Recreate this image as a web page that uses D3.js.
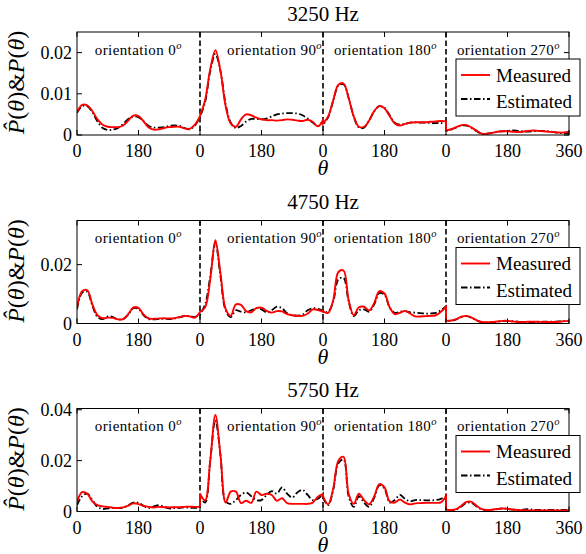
<!DOCTYPE html>
<html><head><meta charset="utf-8">
<script src="https://cdn.jsdelivr.net/npm/d3@7"></script>
<style>body{margin:0;background:#fff}svg{display:block}</style>
</head><body><svg id="c" width="586" height="554"></svg>
<script>
// ---------- data (values in units of 1e-3) ----------
const frequencies = ["3250 Hz", "4750 Hz", "5750 Hz"];
const orientations = ["0", "90", "180", "270"];
const orientationLabelTheta = [52, 439, 752, 1112];
const thetaLocal = [0,15,30,45,60,75,90,105,120,135,150,165,180,195,210,225,240,255,270,285,300,315,330,345,360];
const xTickValues = [0,180,360,540,720,900,1080,1260,1440];
const xTickLabels = ["0","180","0","180","0","180","0","180","360"];
const yMaxes = [25, 35, 40.5];
const yTickValues = [[0,10,20],[0,20],[0,20,40]];
const yTickLabels = [["0","0.01","0.02"],["0","0.02"],["0","0.02","0.04"]];

const measured3250 = [
  [5.6,7.3,7.2,5.8,3.8,2.5,2.0,1.9,1.9,2.3,3.5,4.7,4.6,3.3,1.8,1.3,1.4,1.7,1.9,2.0,2.0,1.6,1.5,2.5,4.6],
  [4.7,8.5,16.0,20.6,15.5,7.0,2.8,2.0,3.8,5.0,4.8,4.2,3.8,3.6,3.6,3.5,3.6,3.8,3.7,3.5,3.4,3.7,3.2,2.1,3.6],
  [2.8,4.5,8.5,12.2,12.5,9.0,4.5,2.0,2.0,3.5,5.8,7.0,6.5,4.6,2.8,2.3,2.7,3.0,3.1,3.1,3.1,3.2,3.3,3.4,3.3],
  [1.1,1.4,1.9,2.4,2.4,1.8,1.0,0.3,0.3,0.5,0.8,0.9,0.9,0.8,0.7,0.8,1.0,1.1,1.0,0.9,0.8,0.7,0.6,0.6,0.8]
];
const estimated3250 = [
  [5.4,7.0,7.0,5.5,3.3,1.7,1.2,1.3,1.7,2.7,3.9,4.5,4.3,3.3,2.2,1.8,1.8,1.9,2.2,2.3,2.2,1.7,1.4,2.3,4.4],
  [4.4,8.0,15.5,19.7,15.5,7.5,3.0,1.7,2.2,3.3,3.9,3.9,3.8,4.0,4.5,5.0,5.2,5.3,5.3,5.2,4.8,4.0,3.0,2.2,3.4],
  [2.5,4.3,8.3,12.0,12.3,9.0,4.5,1.8,1.8,3.5,5.8,7.0,6.6,4.8,3.0,2.5,2.7,3.0,3.1,3.0,3.0,2.9,2.9,2.9,2.8],
  [1.0,1.3,1.8,2.3,2.3,1.7,0.9,0.3,0.3,0.5,0.8,0.9,1.0,1.1,1.0,0.9,0.8,0.9,1.0,1.0,0.9,0.7,0.5,0.4,0.4]
];
const measured4750 = [
  [5.2,11.0,11.3,6.5,2.8,1.8,2.0,1.9,1.4,1.5,3.2,5.5,5.3,3.0,1.7,1.6,1.7,1.8,1.7,1.8,2.2,2.6,2.4,2.0,3.9],
  [3.9,5.5,15.0,28.3,17.0,5.0,2.6,6.5,6.3,4.2,3.8,5.2,5.4,4.3,3.7,4.2,4.1,3.2,2.8,2.6,2.6,3.3,4.8,4.6,4.0],
  [4.1,3.6,8.0,17.5,18.0,8.0,2.8,5.5,5.7,4.4,7.0,11.0,10.2,5.5,3.2,3.6,4.3,3.4,2.4,2.4,2.5,2.6,2.8,4.0,5.6],
  [0.9,1.0,1.5,2.3,2.6,2.0,1.1,0.5,0.4,0.5,0.7,0.9,0.9,0.7,0.5,0.5,0.6,0.6,0.6,0.5,0.5,0.5,0.6,0.8,0.9]
];
const estimated4750 = [
  [4.8,10.5,10.8,6.0,2.2,1.5,2.4,2.2,1.4,1.5,3.0,5.2,5.0,2.8,1.5,1.4,1.5,1.6,1.5,1.7,2.1,2.5,2.5,2.2,3.0],
  [3.0,6.5,16.0,27.5,16.0,4.5,2.2,4.5,4.0,3.8,4.5,5.2,4.8,3.8,4.5,5.7,5.2,3.5,2.8,2.7,3.0,4.5,5.2,5.0,4.2],
  [4.0,4.0,7.5,15.0,15.5,7.5,2.5,4.5,4.8,4.0,6.5,10.3,9.8,5.5,3.6,4.0,4.2,3.8,3.7,3.5,3.4,3.4,3.6,4.5,5.8],
  [0.8,0.9,1.4,2.2,2.5,1.9,1.0,0.4,0.3,0.4,0.6,0.8,0.9,0.8,0.6,0.4,0.3,0.4,0.5,0.6,0.6,0.6,0.7,0.8,0.9]
];
const measured5750 = [
  [3.8,7.6,7.0,4.0,2.5,2.0,1.8,1.5,1.4,1.6,2.3,3.2,2.9,2.2,1.8,1.6,1.8,1.7,1.6,1.7,1.7,1.8,1.9,1.8,1.9],
  [7.0,4.4,20.0,38.0,22.0,3.5,7.8,7.8,3.3,4.2,3.4,7.8,6.5,7.0,6.5,4.2,5.2,3.3,3.0,3.0,3.0,3.0,3.5,5.8,6.8],
  [6.0,2.8,9.0,20.0,21.5,7.0,3.0,7.0,4.5,2.8,6.0,10.8,9.5,4.0,3.5,4.7,3.5,2.8,3.2,3.3,3.4,3.4,3.4,3.6,6.0],
  [0.8,0.6,0.9,2.3,3.8,3.8,2.2,0.9,0.6,0.7,1.0,1.2,1.1,0.8,0.6,0.5,0.4,0.4,0.4,0.4,0.4,0.4,0.4,0.4,0.5]
];
const estimated5750 = [
  [2.5,6.0,7.0,4.5,1.8,1.0,1.2,1.4,1.3,1.5,2.5,3.5,3.4,2.2,1.4,2.0,2.5,1.8,1.2,1.3,1.4,1.6,1.5,1.4,1.6],
  [6.0,3.5,20.0,36.0,22.0,4.0,3.0,4.5,6.5,7.5,6.0,4.5,4.5,6.5,8.0,7.0,9.5,7.0,5.5,7.5,8.5,6.5,4.5,5.0,7.0],
  [5.5,2.5,8.5,19.0,20.5,6.0,1.8,6.0,3.5,1.8,5.5,10.3,9.0,3.5,4.5,6.5,5.0,4.0,4.5,4.5,4.4,4.4,4.5,5.0,6.0],
  [0.6,0.5,0.8,2.0,3.4,3.4,2.0,0.8,0.6,0.7,1.0,1.2,1.0,0.7,0.6,0.7,0.9,0.7,0.6,0.6,0.6,0.6,0.6,0.6,0.6]
];
const measuredAll = [measured3250, measured4750, measured5750];
const estimatedAll = [estimated3250, estimated4750, estimated5750];
const legendLabels = ["Measured", "Estimated"];

// ---------- layout ----------
const FONT = "'Liberation Serif','Times New Roman',serif";
const L = 77, R = 569, H = 103;
const tops = [32, 220.5, 408.5];
const svg = d3.select("#c").style("font-family", FONT);
const x = d3.scaleLinear().domain([0, 1440]).range([L, R]);

frequencies.forEach((freq, p) => {
  const top = tops[p], bot = top + H;
  const y = d3.scaleLinear().domain([0, yMaxes[p]]).range([bot, top]);
  const g = svg.append("g");
  const clipId = "clip" + p;
  svg.append("clipPath").attr("id", clipId).append("rect")
    .attr("x", L).attr("y", top).attr("width", R - L).attr("height", H);

  // title
  g.append("text").attr("x", (L + R) / 2).attr("y", top - 11.5)
    .attr("text-anchor", "middle").attr("font-size", 21).text(freq);

  // separators
  [360, 720, 1080].forEach(t => {
    g.append("line").attr("x1", x(t)).attr("x2", x(t)).attr("y1", top).attr("y2", bot)
      .attr("stroke", "#000").attr("stroke-width", 1.6).attr("stroke-dasharray", "5.5,3");
  });

  // curves
  const line = d3.line().x(d => x(d[0])).y(d => y(d[1])).curve(d3.curveCatmullRom.alpha(0.5));
  const buildPath = (series) => series.map((vals, k) => {
    const s = line(thetaLocal.map((t, i) => [360 * k + t, vals[i]]));
    return k ? "L" + s.slice(1) : s;
  }).join("");
  const cg = g.append("g").attr("clip-path", `url(#${clipId})`);
  cg.append("path").attr("d", buildPath(estimatedAll[p])).attr("fill", "none")
    .attr("stroke", "#000").attr("stroke-width", 1.8).attr("stroke-dasharray", "6.5,2.5,1.5,2.5");
  cg.append("path").attr("d", buildPath(measuredAll[p])).attr("fill", "none")
    .attr("stroke", "#ff0000").attr("stroke-width", 1.9);

  // orientation labels
  orientations.forEach((o, k) => {
    const t = g.append("text").attr("x", x(orientationLabelTheta[k])).attr("y", top + 22.5)
      .attr("font-size", 15).attr("letter-spacing", 0.4).text("orientation " + o);
    t.append("tspan").attr("dy", -6).attr("font-size", 10.5).attr("font-style", "italic").text("o");
  });

  // frame
  g.append("rect").attr("x", L).attr("y", top).attr("width", R - L).attr("height", H)
    .attr("fill", "none").attr("stroke", "#000").attr("stroke-width", 1);

  // x ticks (inward, top & bottom) + labels
  xTickValues.forEach((t, i) => {
    g.append("line").attr("x1", x(t)).attr("x2", x(t)).attr("y1", bot).attr("y2", bot - 5).attr("stroke", "#000");
    g.append("line").attr("x1", x(t)).attr("x2", x(t)).attr("y1", top).attr("y2", top + 5).attr("stroke", "#000");
    g.append("text").attr("x", x(t)).attr("y", bot + 22).attr("text-anchor", "middle")
      .attr("font-size", 18).text(xTickLabels[i]);
  });
  // y ticks
  yTickValues[p].forEach((v, i) => {
    g.append("line").attr("x1", L).attr("x2", L + 5).attr("y1", y(v)).attr("y2", y(v)).attr("stroke", "#000");
    g.append("line").attr("x1", R).attr("x2", R - 5).attr("y1", y(v)).attr("y2", y(v)).attr("stroke", "#000");
    g.append("text").attr("x", L - 5).attr("y", y(v)).attr("dy", "0.35em").attr("text-anchor", "end")
      .attr("font-size", 18).text(yTickLabels[p][i]);
  });

  // x label
  g.append("text").attr("x", (L + R) / 2).attr("y", bot + 40).attr("text-anchor", "middle")
    .attr("font-size", 22).attr("font-style", "italic").text("θ");

  // y label
  const yl = g.append("text").attr("transform", `translate(24,${(top + bot) / 2 - 1}) rotate(-90)`)
    .attr("text-anchor", "middle").attr("font-size", 24);
  yl.append("tspan").attr("font-style", "italic").text("P\u0302");
  yl.append("tspan").text("(");
  yl.append("tspan").attr("font-style", "italic").text("θ");
  yl.append("tspan").text(")&");
  yl.append("tspan").attr("font-style", "italic").text("P");
  yl.append("tspan").text("(");
  yl.append("tspan").attr("font-style", "italic").text("θ");
  yl.append("tspan").text(")");

  // legend
  const lx = 456, lw = 124, ly = top + 27, lh = 57;
  const lg = g.append("g");
  lg.append("rect").attr("x", lx).attr("y", ly).attr("width", lw).attr("height", lh)
    .attr("fill", "#fff").attr("stroke", "#000").attr("stroke-width", 1);
  lg.append("line").attr("x1", lx + 5).attr("x2", lx + 34).attr("y1", ly + 16).attr("y2", ly + 16)
    .attr("stroke", "#ff0000").attr("stroke-width", 1.9);
  lg.append("text").attr("x", lx + 40).attr("y", ly + 22.5).attr("font-size", 19).text(legendLabels[0]);
  lg.append("line").attr("x1", lx + 5).attr("x2", lx + 34).attr("y1", ly + 40).attr("y2", ly + 40)
    .attr("stroke", "#000").attr("stroke-width", 1.8).attr("stroke-dasharray", "6.5,2.5,1.5,2.5");
  lg.append("text").attr("x", lx + 40).attr("y", ly + 49).attr("font-size", 19).text(legendLabels[1]);
});
</script></body></html>
